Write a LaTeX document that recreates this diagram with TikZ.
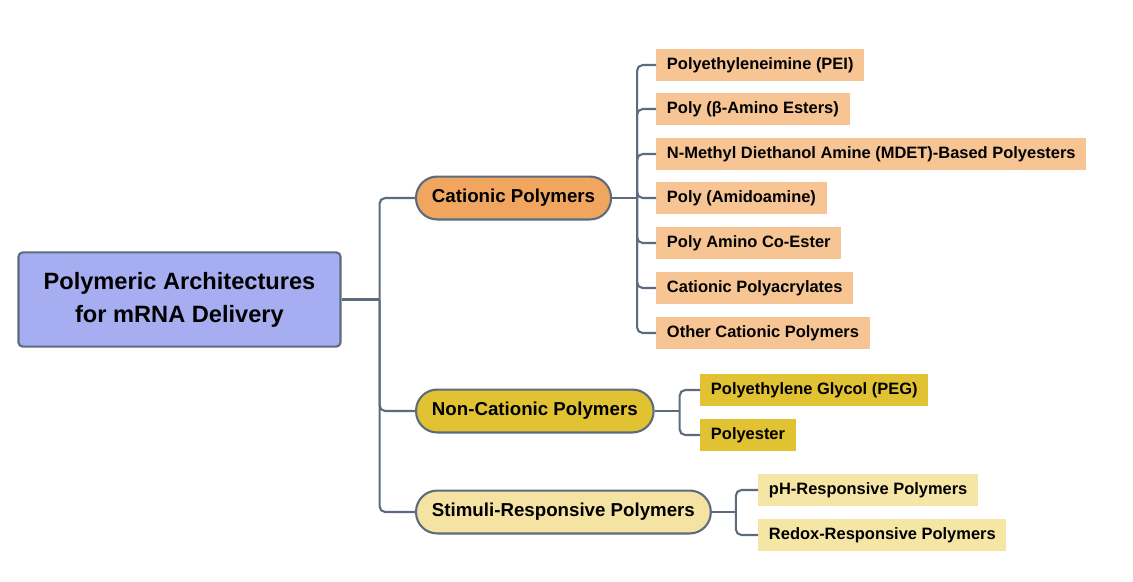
\documentclass[tikz,border=0pt]{standalone}
\usepackage{fontspec}
\setmainfont{Liberation Sans}
\usetikzlibrary{calc}

\definecolor{linegray}{HTML}{5C6B7E}
\definecolor{rootblue}{HTML}{A6AEF1}
\definecolor{catmid}{HTML}{F0A65F}
\definecolor{catleaf}{HTML}{F7C594}
\definecolor{noncat}{HTML}{E1C233}
\definecolor{stimmid}{HTML}{F4E3A2}
\definecolor{stimleaf}{HTML}{F6E6A6}

\begin{document}
\begin{tikzpicture}[x=0.025cm, y=-0.025cm,
  conn/.style={line width=1.5pt, draw=linegray, rounded corners=4pt},
  rootbox/.style={draw=linegray, line width=1.5pt, fill=rootblue, rounded corners=3pt,
    minimum width=229pt, minimum height=67pt, align=center,
    font=\fontsize{16.8}{23.4}\selectfont\bfseries},
  midbox/.style={draw=linegray, line width=1.5pt, rounded corners=15pt,
    minimum height=30.5pt, inner xsep=11.3pt,
    font=\fontsize{13.3}{16}\selectfont\bfseries},
  leafbox/.style={anchor=west, minimum height=22.7pt, inner xsep=7.6pt,
    font=\fontsize{11.7}{14}\selectfont\bfseries}]
  \useasboundingbox (0,0) rectangle (1133,581);

  \node[rootbox] (root) at (179.5, 299.5) {Polymeric Architectures\\for mRNA Delivery};

  \node[midbox, fill=catmid, anchor=west] (cat) at (415, 198) {Cationic Polymers};
  \node[midbox, fill=noncat, anchor=west] (noncat) at (415, 411) {Non-Cationic Polymers};
  \node[midbox, fill=stimmid, anchor=west] (stim) at (415, 512) {Stimuli-Responsive Polymers};

  \node[leafbox, fill=catleaf] (pei) at (656, 65) {Polyethyleneimine (PEI)};
  \node[leafbox, fill=catleaf] (pbae) at (656, 109) {Poly (β-Amino Esters)};
  \node[leafbox, fill=catleaf] (mdet) at (656, 154) {N-Methyl Diethanol Amine (MDET)-Based Polyesters};
  \node[leafbox, fill=catleaf] (pamam) at (656, 198) {Poly (Amidoamine)};
  \node[leafbox, fill=catleaf] (coester) at (656, 243) {Poly Amino Co-Ester};
  \node[leafbox, fill=catleaf] (acryl) at (656, 288) {Cationic Polyacrylates};
  \node[leafbox, fill=catleaf] (othercat) at (656, 333) {Other Cationic Polymers};

  \node[leafbox, fill=noncat] (peg) at (700, 390) {Polyethylene Glycol (PEG)};
  \node[leafbox, fill=noncat] (pester) at (700, 435) {Polyester};

  \node[leafbox, fill=stimleaf] (ph) at (758, 490) {pH-Responsive Polymers};
  \node[leafbox, fill=stimleaf] (redox) at (758, 535) {Redox-Responsive Polymers};

  % trunk
  \coordinate (rj) at ($(root.east)+(38,0)$);
  \draw[conn] (root.east) -- (rj);
  \foreach \m in {cat, noncat, stim}
    \draw[conn] (rj) |- (\m.west);

  % cationic branch
  \coordinate (cj) at ($(cat.east)+(25,0)$);
  \draw[conn] (cat.east) -- (cj);
  \foreach \l in {pei, pbae, mdet, pamam, coester, acryl, othercat}
    \draw[conn] (cj) |- (\l.west);

  % non-cationic branch
  \coordinate (nj) at ($(noncat.east)+(25,0)$);
  \draw[conn] (noncat.east) -- (nj);
  \foreach \l in {peg, pester}
    \draw[conn] (nj) |- (\l.west);

  % stimuli branch
  \coordinate (sj) at ($(stim.east)+(24,0)$);
  \draw[conn] (stim.east) -- (sj);
  \foreach \l in {ph, redox}
    \draw[conn] (sj) |- (\l.west);
\end{tikzpicture}
\end{document}
